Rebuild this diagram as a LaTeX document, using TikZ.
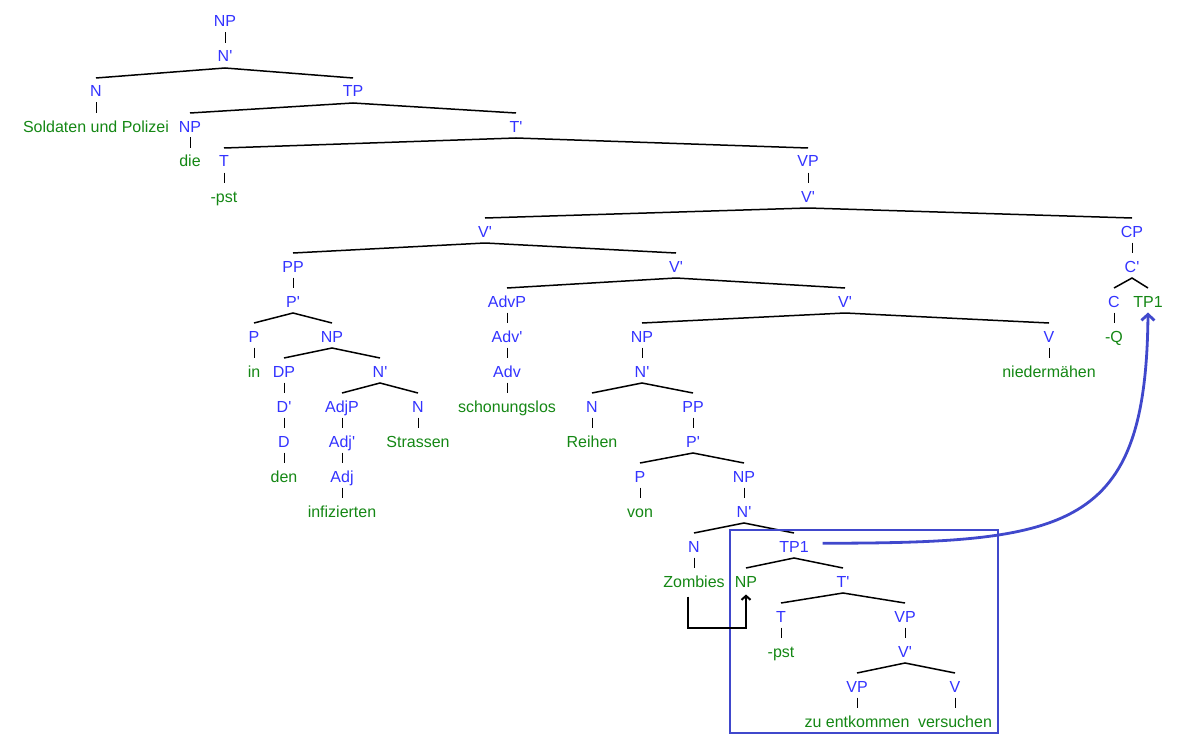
\documentclass[tikz,border=0pt]{standalone}
\usepackage{fontspec}
\setmainfont[Ligatures=TeXOff]{Liberation Sans}
\usetikzlibrary{arrows.meta}
\definecolor{catblue}{RGB}{51,51,255}
\definecolor{wordgreen}{RGB}{20,135,20}
\definecolor{moveblue}{RGB}{64,72,204}

\begin{document}
\begin{tikzpicture}[x=1pt,y=-1pt,
    lbl/.style={anchor=base,inner sep=0pt,outer sep=0pt,text height=19pt,text depth=5.5pt,
                font=\fontsize{16}{19}\selectfont},
    cat/.style={lbl,text=catblue},
    word/.style={lbl,text=wordgreen},
    bar/.style={line width=0.9pt},
    br/.style={line width=1.5pt},
    move/.style={line width=2pt,-{Straight Barb[length=4pt,width=9pt]}},
    bigmove/.style={moveblue,line width=2.8pt,-{Straight Barb[length=6pt,width=13pt]}}]
\useasboundingbox (0,0) rectangle (1191,741);

% Top
\node[cat] (np0) at (225,27) {NP};
\node[cat] (nb0) at (225,62) {N'};
\node[cat] (n0) at (96,97) {N};
\node[cat] (tp0) at (353,97) {TP};
\node[word] (soldaten) at (96,132) {Soldaten und Polizei};
\node[cat] (np1) at (190,132) {NP};
\node[cat] (tb0) at (516,132) {T'};
\node[word] (die) at (190,167) {die};
\node[cat] (t0) at (224,167) {T};
\node[cat] (vp0) at (808,167) {VP};
\node[word] (pst0) at (224,202) {-pst};
\node[cat] (vb0) at (808,202) {V'};
\node[cat] (vb1) at (485,237) {V'};
\node[cat] (cp) at (1132,237) {CP};

% PP
\node[cat] (pp0) at (293,272) {PP};
\node[cat] (pb0) at (293,307) {P'};
\node[cat] (p0) at (254,342) {P};
\node[cat] (np2) at (332,342) {NP};
\node[word] (in) at (254,377) {in};
\node[cat] (dp) at (284,377) {DP};
\node[cat] (nb1) at (380,377) {N'};
\node[cat] (db) at (284,412) {D'};
\node[cat] (adjp) at (342,412) {AdjP};
\node[cat] (n1) at (418,412) {N};
\node[cat] (d) at (284,447) {D};
\node[cat] (adjb) at (342,447) {Adj'};
\node[word] (strassen) at (418,447) {Strassen};
\node[word] (den) at (284,482) {den};
\node[cat] (adj) at (342,482) {Adj};
\node[word] (infizierten) at (342,517) {infizierten};

% Adverb and object
\node[cat] (vb2) at (676,272) {V'};
\node[cat] (advp) at (507,307) {AdvP};
\node[cat] (vb3) at (845,307) {V'};
\node[cat] (advb) at (507,342) {Adv'};
\node[cat] (np3) at (642,342) {NP};
\node[cat] (v0) at (1049,342) {V};
\node[cat] (adv) at (507,377) {Adv};
\node[cat] (nb2) at (642,377) {N'};
\node[word] (niedermaehen) at (1049,377) {niedermähen};
\node[word] (schonungslos) at (507,412) {schonungslos};
\node[cat] (n2) at (592,412) {N};
\node[cat] (pp1) at (693,412) {PP};
\node[word] (reihen) at (592,447) {Reihen};
\node[cat] (pb1) at (693,447) {P'};
\node[cat] (p1) at (640,482) {P};
\node[cat] (np4) at (744,482) {NP};
\node[word] (von) at (640,517) {von};
\node[cat] (nb3) at (744,517) {N'};
\node[cat] (n3) at (694,552) {N};
\node[cat] (tp1) at (794,552) {TP1};
\node[word] (zombies) at (694,587) {Zombies};
\node[word] (np5) at (746,587) {NP};
\node[cat] (tb1) at (843,587) {T'};
\node[cat] (t1) at (781,622) {T};
\node[cat] (vp1) at (905,622) {VP};
\node[word] (pst1) at (781,657) {-pst};
\node[cat] (vb4) at (905,657) {V'};
\node[cat] (vp2) at (857,692) {VP};
\node[cat] (v1) at (955,692) {V};
\node[word] (entkommen) at (857,727) {zu entkommen};
\node[word] (versuchen) at (955,727) {versuchen};

% CP
\node[cat] (cb) at (1132,272) {C'};
\node[cat] (c) at (1114,307) {C};
\node[word] (tp1top) at (1148,307) {TP1};
\node[word] (q) at (1114,342) {-Q};

% Branches
\foreach \a/\b in {np0/nb0,n0/soldaten,np1/die,t0/pst0,vp0/vb0,cp/cb,pp0/pb0,
    p0/in,dp/db,db/d,d/den,adjp/adjb,adjb/adj,adj/infizierten,n1/strassen,
    advp/advb,advb/adv,adv/schonungslos,np3/nb2,v0/niedermaehen,c/q,n2/reihen,
    pp1/pb1,p1/von,np4/nb3,n3/zombies,t1/pst1,vp1/vb4,vp2/entkommen,v1/versuchen}
    \draw[bar] (\a.south) -- (\b.north);
\foreach \a/\b/\c in {nb0/n0/tp0,tp0/np1/tb0,tb0/t0/vp0,vb0/vb1/cp,vb1/pp0/vb2,
    vb2/advp/vb3,vb3/np3/v0,cb/c/tp1top,pb0/p0/np2,np2/dp/nb1,nb1/adjp/n1,
    nb2/n2/pp1,pb1/p1/np4,nb3/n3/tp1,tp1/np5/tb1,tb1/t1/vp1,vb4/vp2/v1}
    \draw[br] (\b.north) -- ([yshift=-0.5pt]\a.south) -- (\c.north);

% Movement
\draw[moveblue,line width=1.8pt] (730,530) rectangle (998,733);
\draw[move] ([xshift=-6pt,yshift=-4pt]zombies.south) -- ++(0,31) -| ([yshift=-2pt]np5.south);
\draw[bigmove] ([xshift=14pt,yshift=2pt]tp1.east) .. controls (1070,543) and (1146,530) .. (tp1top.south);
\end{tikzpicture}
\end{document}
